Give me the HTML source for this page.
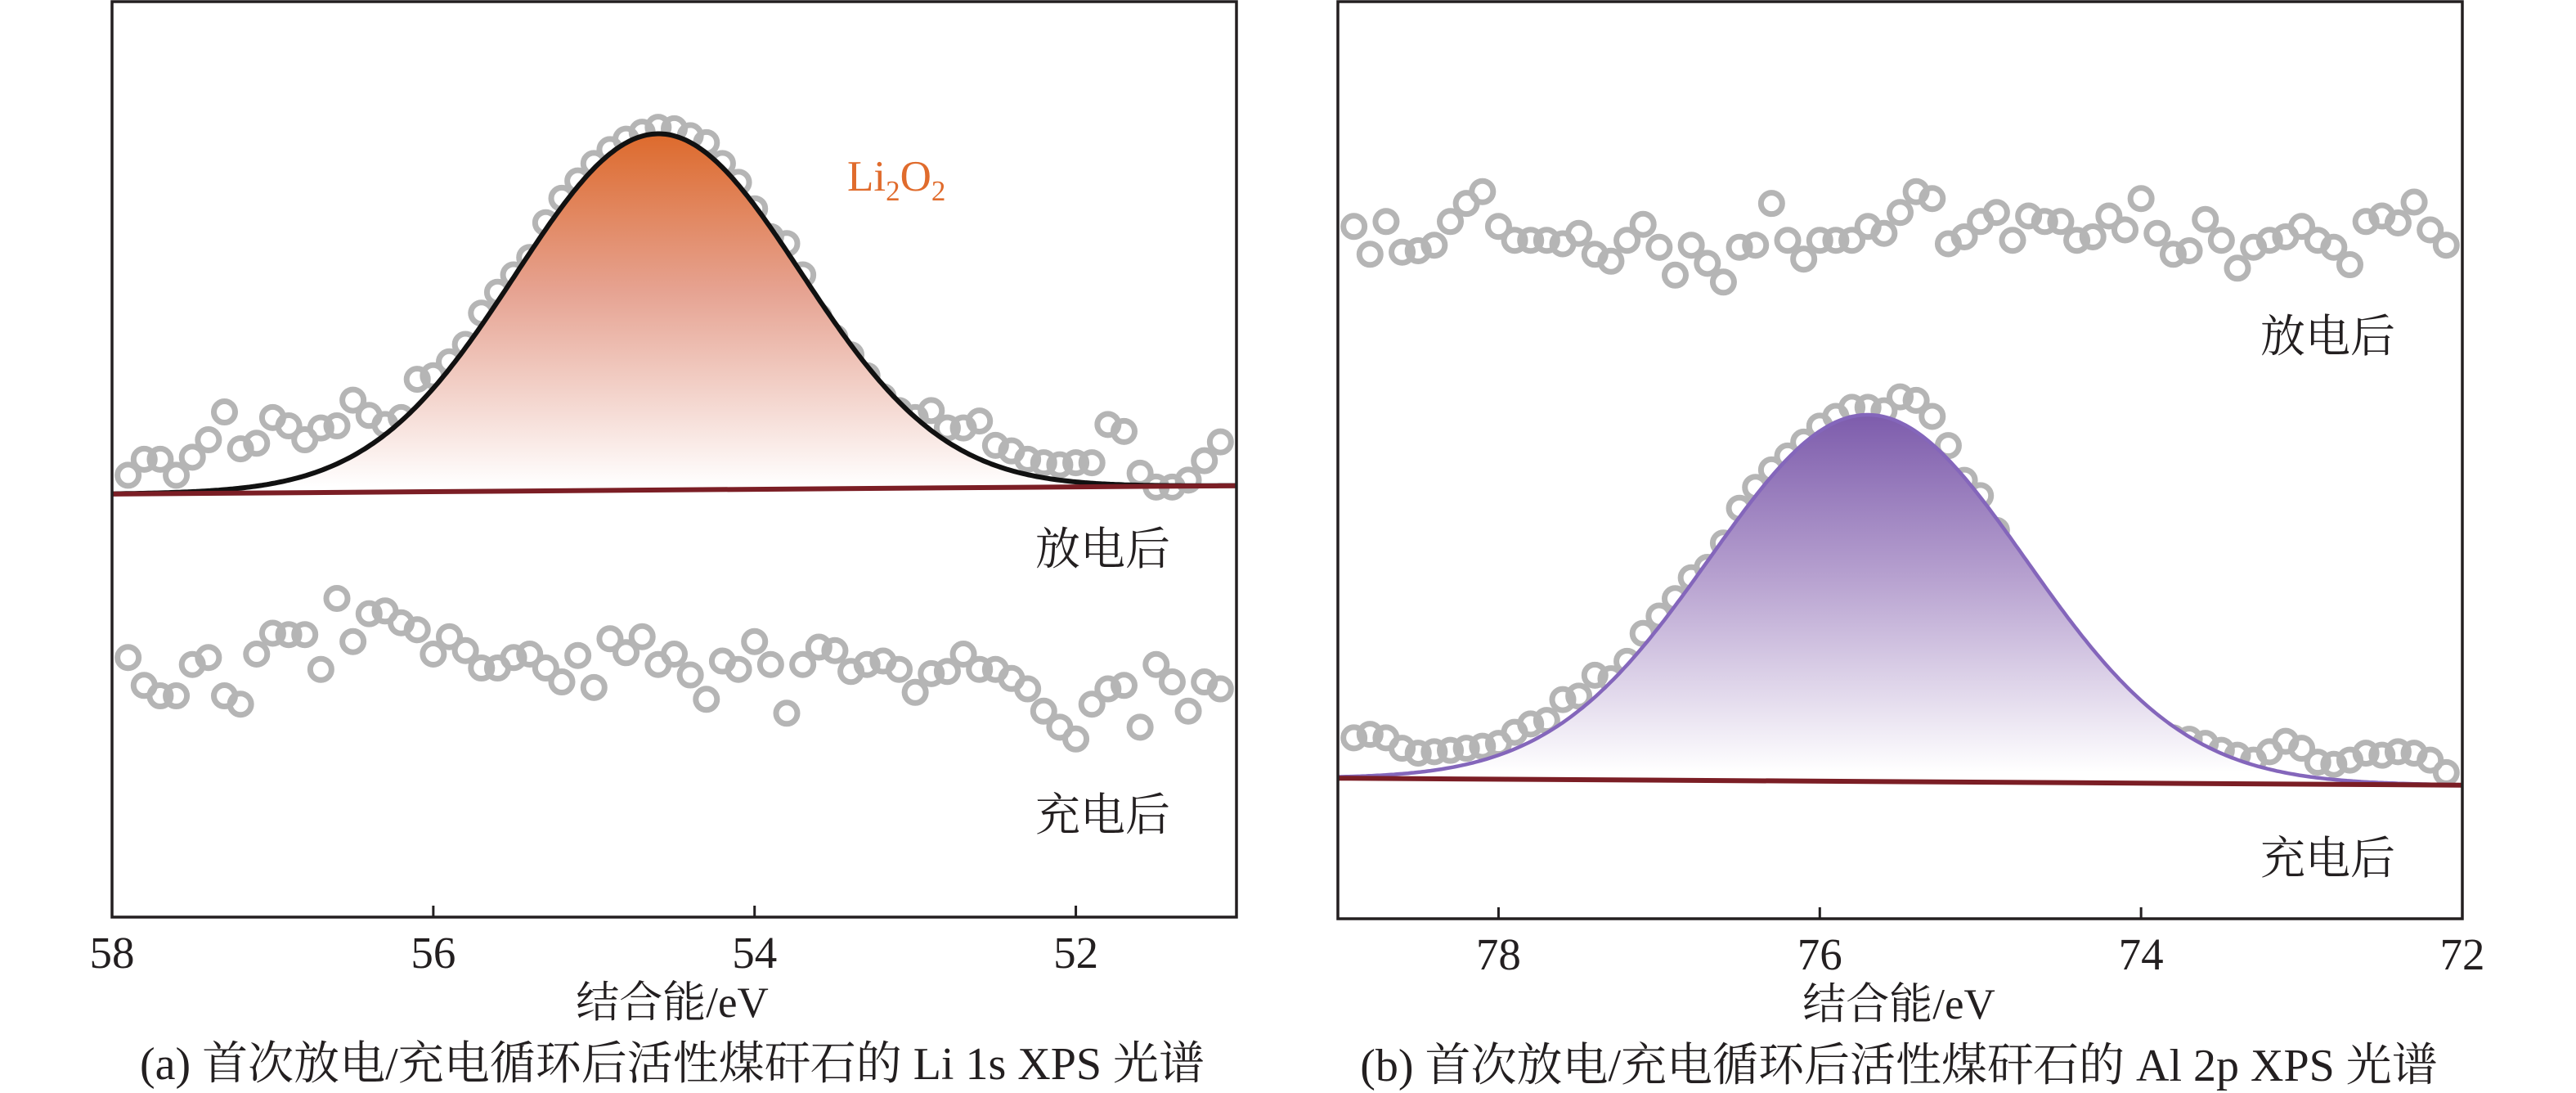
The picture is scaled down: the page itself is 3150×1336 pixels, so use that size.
<!DOCTYPE html>
<html><head><meta charset="utf-8"><style>
html,body{margin:0;padding:0;background:#fff;overflow:hidden;}
svg{display:block;}
text{font-family:"Liberation Serif","Noto Serif CJK SC","Noto Sans CJK SC",serif;fill:#231f20;}
</style></head><body>
<svg id="fig" width="3150" height="1336" viewBox="0 0 3150 1336" xmlns="http://www.w3.org/2000/svg">
<defs>
<linearGradient id="gradA" gradientUnits="userSpaceOnUse" x1="0" y1="163" x2="0" y2="595">
<stop offset="0" stop-color="#dd6a2c"/><stop offset="0.45" stop-color="#e6a392"/><stop offset="1" stop-color="#ffffff"/>
</linearGradient>
<linearGradient id="gradB" gradientUnits="userSpaceOnUse" x1="0" y1="507" x2="0" y2="944">
<stop offset="0" stop-color="#7d5cac"/><stop offset="0.45" stop-color="#b6a0cf"/><stop offset="1" stop-color="#ffffff"/>
</linearGradient>
<clipPath id="clipA"><rect x="137" y="2" width="1375" height="1119"/></clipPath>
<clipPath id="clipB"><rect x="1636" y="2" width="1375" height="1121"/></clipPath>
</defs>
<g id="panelA"></g>
<g id="panelB"></g>
</svg>
<script>
// ---- Panel A data (Li 1s) ----
const energyA = [57.9,57.8,57.7,57.6,57.5,57.4,57.3,57.2,57.1,57.0,56.9,56.8,56.7,56.6,56.5,56.4,56.3,56.2,56.1,56.0,55.9,55.8,55.7,55.6,55.5,55.4,55.3,55.2,55.1,55.0,54.9,54.8,54.7,54.6,54.5,54.4,54.3,54.2,54.1,54.0,53.9,53.8,53.7,53.6,53.5,53.4,53.3,53.2,53.1,53.0,52.9,52.8,52.7,52.6,52.5,52.4,52.3,52.2,52.1,52.0,51.9,51.8,51.7,51.6,51.5,51.4,51.3,51.2,51.1];
const dischargeA = [635,658,658,635,661,686,726,673,681,718,706,686,703,706,743,721,708,718,773,778,798,823,868,898,923,948,998,1033,1058,1083,1103,1118,1128,1135,1133,1123,1113,1083,1056,1018,978,968,923,863,833,808,778,748,728,718,728,703,703,713,678,670,658,653,650,653,653,708,698,638,618,618,628,656,683];
const chargeA = [373,333,318,318,363,373,318,306,378,408,406,406,356,458,396,436,440,423,413,378,403,383,358,358,373,378,358,338,376,330,400,380,403,363,378,348,313,368,356,396,363,293,363,388,383,353,363,368,356,323,350,353,378,356,356,343,328,296,273,256,306,328,333,273,363,338,296,338,328];
const fitA = [54.6, 512, 0.89];          // center, amplitude, sigma
const baseA = [608, 620];                // baseline at high-E edge, low-E edge
const ticksA = [58,56,54,52];
// ---- Panel B data (Al 2p) ----
const energyB = [78.9,78.8,78.7,78.6,78.5,78.4,78.3,78.2,78.1,78.0,77.9,77.8,77.7,77.6,77.5,77.4,77.3,77.2,77.1,77.0,76.9,76.8,76.7,76.6,76.5,76.4,76.3,76.2,76.1,76.0,75.9,75.8,75.7,75.6,75.5,75.4,75.3,75.2,75.1,75.0,74.9,74.8,74.7,74.6,74.5,74.4,74.3,74.2,74.1,74.0,73.9,73.8,73.7,73.6,73.5,73.4,73.3,73.2,73.1,73.0,72.9,72.8,72.7,72.6,72.5,72.4,72.3,72.2,72.1];
const dischargeB = [995,955,1002,958,960,968,1002,1028,1045,995,975,975,975,970,985,955,945,975,998,965,925,968,942,915,965,968,1028,975,948,975,975,975,995,985,1015,1045,1035,970,980,1002,1015,975,1010,1002,1002,975,980,1010,990,1035,985,955,960,1005,975,935,965,975,980,995,975,965,940,1002,1010,1000,1030,990,968];
const chargeB = [260,265,260,245,238,240,242,245,248,252,268,280,285,315,320,350,345,370,410,435,460,490,505,540,590,620,645,665,685,708,722,735,735,730,750,745,722,680,630,608,558,495,445,398,362,335,310,300,308,275,262,260,258,252,242,235,228,240,255,245,225,222,228,238,235,240,238,228,210];
const fitB = [75.7, 527, 0.985];
const baseB = [202, 192];
const ticksB = [78,76,74,72];

const NS = "http://www.w3.org/2000/svg";
const KY = 0.8505;
function mk(parent, tag, attrs){const e=document.createElementNS(NS,tag);for(const k in attrs)e.setAttribute(k,attrs[k]);parent.appendChild(e);return e;}

function drawPanel(g, cfg){
  const {L,R,T,B,xMax,xMin,energy,top,bottom,fit,base,ticks,clip,grad,curveColor,curveW,peakKey,labels,caption,cx} = cfg;
  const xs = e => L + (xMax - e) / (xMax - xMin) * (R - L);
  const ys = v => B - v * KY;
  const baseAt = e => base[0] + (base[1]-base[0]) * (xMax - e)/(xMax - xMin);
  const dataG = mk(g,'g',{'clip-path':`url(#${clip})`});
  
  
  [[top,'discharge-point'],[bottom,'charge-point']].forEach(([arr,name])=>{
    arr.forEach((v,i)=>{
      const c = mk(dataG,'circle',{cx:xs(energy[i]),cy:ys(v),r:13,fill:'none',stroke:'#b5b5b5','stroke-width':7});
      
      
    });
  });
  let pts=[];
  for(let k=0;k<=400;k++){const e=xMax-(xMax-xMin)*k/400;const v=baseAt(e)+fit[1]*Math.exp(-0.5*Math.pow((e-fit[0])/fit[2],2));pts.push([xs(e),ys(v)]);}
  let area = 'M'+pts.map(p=>p[0].toFixed(1)+','+p[1].toFixed(1)).join('L')+`L${xs(xMin)},${ys(baseAt(xMin))}L${xs(xMax)},${ys(baseAt(xMax))}Z`;
  const fill = mk(dataG,'path',{d:area,fill:`url(#${grad})`});
  
  
  const curve = mk(dataG,'path',{d:'M'+pts.map(p=>p[0].toFixed(1)+','+p[1].toFixed(1)).join('L'),fill:'none',stroke:curveColor,'stroke-width':curveW});
  
  
  const bl = mk(dataG,'line',{x1:xs(xMax),y1:ys(baseAt(xMax)),x2:xs(xMin),y2:ys(baseAt(xMin)),stroke:'#7b1e25','stroke-width':6});
  
  
  const fr = mk(g,'rect',{x:L,y:T,width:R-L,height:B-T,fill:'none',stroke:'#231f20','stroke-width':3.5});
  
  
  ticks.forEach(t=>{
    const x=xs(t);
    const tk = mk(g,'line',{x1:x,y1:B,x2:x,y2:B-14,stroke:'#231f20','stroke-width':3});
    
    
    const tl = mk(g,'text',{x:x,y:B+62,'text-anchor':'middle','font-size':55});
    tl.textContent = t;
    
    
  });
  const at = mk(g,'text',{x:cx,y:B+122,'text-anchor':'middle','font-size':53});
  at.textContent = '结合能/eV';
  
  
  const cp = mk(g,'text',{x:cx,y:B+198,'text-anchor':'middle','font-size':56});
  cp.textContent = caption;
  
  
  labels.forEach(([txt,x,y,name])=>{
    const lt = mk(g,'text',{x:x,y:y,'font-size':55});
    lt.textContent = txt;
    
    
  });
}

drawPanel(document.getElementById('panelA'),{L:137,R:1512,T:2,B:1121,xMax:58,xMin:51,energy:energyA,top:dischargeA,bottom:chargeA,fit:fitA,base:baseA,ticks:ticksA,clip:'clipA',grad:'gradA',curveColor:'#111',curveW:6,peakKey:'li1s',cx:822,
  caption:'(a) 首次放电/充电循环后活性煤矸石的 Li 1s XPS 光谱',
  labels:[['放电后',1266,690,'discharge-label'],['充电后',1266,1015,'charge-label']]});
drawPanel(document.getElementById('panelB'),{L:1636,R:3011,T:2,B:1123,xMax:79,xMin:72,energy:energyB,top:dischargeB,bottom:chargeB,fit:fitB,base:baseB,ticks:ticksB,clip:'clipB',grad:'gradB',curveColor:'#8466bb',curveW:4.5,peakKey:'al2p',cx:2322,
  caption:'(b) 首次放电/充电循环后活性煤矸石的 Al 2p XPS 光谱',
  labels:[['放电后',2764,430,'discharge-label'],['充电后',2764,1068,'charge-label']]});

const li = mk(document.getElementById('panelA'),'text',{x:1036,y:233,'font-size':53,style:'fill:#e06b2c'});


li.innerHTML = 'Li<tspan dy="12" font-size="35">2</tspan><tspan dy="-12">O</tspan><tspan dy="12" font-size="35">2</tspan>';
</script>
</body></html>
